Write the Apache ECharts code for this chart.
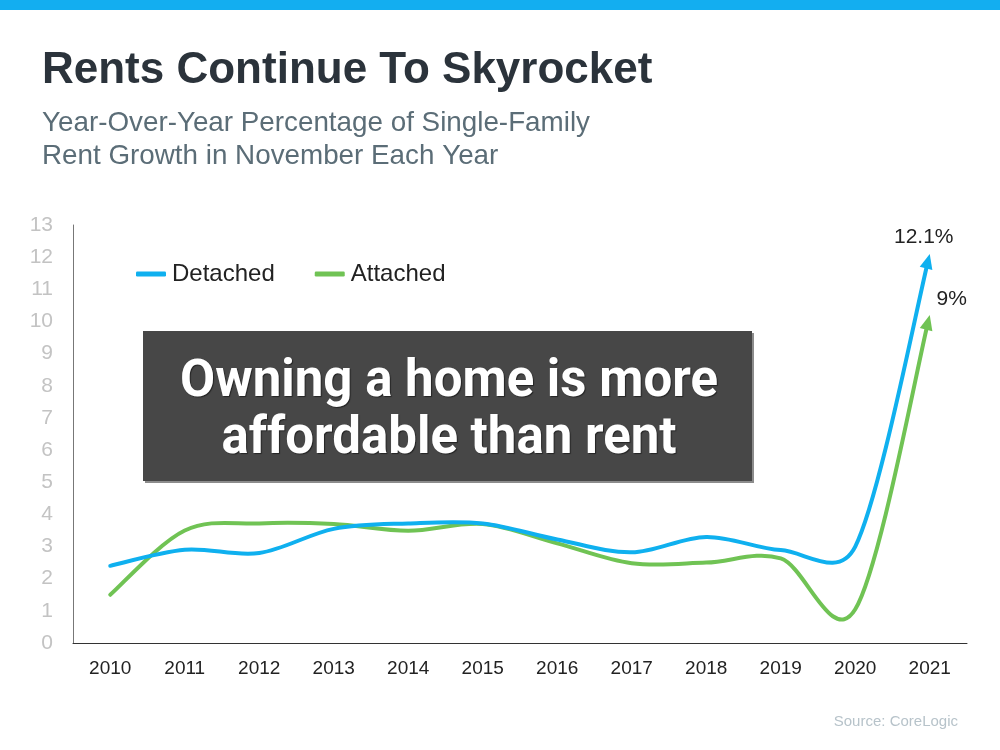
<!DOCTYPE html>
<html>
<head>
<meta charset="utf-8">
<script src="https://cdn.jsdelivr.net/npm/echarts@6/dist/echarts.min.js"></script>
<style>
html,body{margin:0;padding:0;background:#fff;}
#chart{width:1000px;height:750px;}
</style>
</head>
<body>
<div id="chart"></div>
<script>
const years = ['2010','2011','2012','2013','2014','2015','2016','2017','2018','2019','2020','2021'];
const detached = [2.4, 2.9, 2.8, 3.55, 3.72, 3.72, 3.22, 2.82, 3.3, 2.89, 3.0, 12.1];
const attached = [1.5, 3.5, 3.72, 3.7, 3.49, 3.7, 3.1, 2.48, 2.5, 2.63, 1.05, 10.2];
const endLabels = ['12.1%', '9%'];
const seriesNames = ['Detached', 'Attached'];
const yTicks = [0, 13, 1];

const BLUE = '#0fb0ef';
const GREEN = '#70c354';
const FONT = '"Liberation Sans", Arial, sans-serif';

function dist(a, b) { return Math.hypot(b[0] - a[0], b[1] - a[1]); }

// Smooth curve with Bezier control points derived from neighbours (office-style smoothing)
function buildSegments(pts) {
  const segs = [];
  const n = pts.length;
  for (let i = 0; i < n - 1; i++) {
    const p0 = pts[i - 1] || pts[i], p1 = pts[i], p2 = pts[i + 1], p3 = pts[i + 2] || pts[i + 1];
    const d12 = dist(p1, p2), d02 = dist(p0, p2), d13 = dist(p1, p3);
    let f1 = 1 / 6, f2 = 1 / 6;
    if (d02 > 0 && d02 / 6 >= d12 / 2) f1 = d12 / 2 / d02;
    if (d13 > 0 && d13 / 6 >= d12 / 2) f2 = d12 / 2 / d13;
    const c1 = [p1[0] + f1 * (p2[0] - p0[0]), p1[1] + f1 * (p2[1] - p0[1])];
    const c2 = [p2[0] - f2 * (p3[0] - p1[0]), p2[1] - f2 * (p3[1] - p1[1])];
    segs.push([p1, c1, c2, p2]);
  }
  return segs;
}
function lerp(a, b, t) { return [a[0] + (b[0] - a[0]) * t, a[1] + (b[1] - a[1]) * t]; }
function splitAt(seg, t) {
  const [a, b, c, d] = seg;
  const ab = lerp(a, b, t), bc = lerp(b, c, t), cd = lerp(c, d, t);
  const abc = lerp(ab, bc, t), bcd = lerp(bc, cd, t);
  const m = lerp(abc, bcd, t);
  return [a, ab, abc, m];
}

function makeRender(values, color, label, labelDx, labelDy) {
  return function (params, api) {
    if (params.dataIndex !== 0) return { type: 'group', children: [] };
    const pts = values.map((v, i) => api.coord([i, v]));
    const segs = buildSegments(pts);
    const last = segs[segs.length - 1];
    const tip = last[3];
    let ux = tip[0] - last[2][0], uy = tip[1] - last[2][1];
    const ul = Math.hypot(ux, uy); ux /= ul; uy /= ul;
    const ARW = 15, HALF = 6.5;
    const segLen = dist(last[0], last[3]);
    segs[segs.length - 1] = splitAt(last, 1 - (ARW - 3) / segLen);
    let d = 'M' + segs[0][0][0] + ',' + segs[0][0][1];
    segs.forEach(s => { d += ' C' + s[1][0] + ',' + s[1][1] + ' ' + s[2][0] + ',' + s[2][1] + ' ' + s[3][0] + ',' + s[3][1]; });
    const base = [tip[0] - ux * ARW, tip[1] - uy * ARW];
    const px = -uy, py = ux;
    return {
      type: 'group',
      children: [
        { type: 'path', shape: { pathData: d }, style: { stroke: color, lineWidth: 4, fill: null, lineCap: 'round', lineJoin: 'round' } },
        { type: 'polygon', shape: { points: [tip, [base[0] + px * HALF, base[1] + py * HALF], [base[0] - px * HALF, base[1] - py * HALF]] }, style: { fill: color } },
        { type: 'text', x: tip[0] + labelDx, y: tip[1] + labelDy, style: { text: label, fill: '#222', font: '21px ' + FONT, textAlign: 'center', textVerticalAlign: 'middle' } }
      ]
    };
  };
}

const chart = echarts.init(document.getElementById('chart'), null, { renderer: 'canvas' });
chart.setOption({
  animation: false,
  backgroundColor: '#fff',
  grid: { left: 73, right: 33, top: 225, bottom: 107 },
  legend: {
    left: 131, top: 257,
    itemWidth: 30, itemHeight: 5, itemGap: 40,
    icon: 'roundRect',
    textStyle: { color: '#222', fontSize: 24, fontFamily: FONT, padding: [0, 0, 0, 1] },
    data: seriesNames
  },
  xAxis: {
    type: 'category',
    data: years,
    boundaryGap: true,
    axisLine: { lineStyle: { color: '#333', width: 1 } },
    axisTick: { show: false },
    axisLabel: { color: '#222', fontSize: 19, margin: 16, fontFamily: FONT }
  },
  yAxis: {
    type: 'value',
    min: yTicks[0], max: yTicks[1], interval: yTicks[2],
    axisLine: { show: true, lineStyle: { color: '#777', width: 1 } },
    axisTick: { show: false },
    splitLine: { show: false },
    axisLabel: { color: '#c3c3c3', fontSize: 21, margin: 20, fontFamily: FONT }
  },
  series: [
    {
      name: seriesNames[0], type: 'custom',
      itemStyle: { color: BLUE },
      encode: { x: 0, y: 1 },
      data: detached.map((v, i) => [i, v]),
      renderItem: makeRender(detached, BLUE, endLabels[0], -6, -17),
      z: 3
    },
    {
      name: seriesNames[1], type: 'custom',
      itemStyle: { color: GREEN },
      encode: { x: 0, y: 1 },
      data: attached.map((v, i) => [i, v]),
      renderItem: makeRender(attached, GREEN, endLabels[1], 22, -16),
      z: 2
    }
  ],
  graphic: [
    { type: 'rect', shape: { x: 0, y: 0, width: 1000, height: 10 }, style: { fill: '#13aef0' } },
    { type: 'text', x: 42, y: 71, style: { text: 'Rents Continue To Skyrocket', fill: '#2b333b', font: 'bold 44px ' + FONT, textVerticalAlign: 'middle' } },
    { type: 'text', x: 42, y: 123, style: { text: 'Year-Over-Year Percentage of Single-Family', fill: '#5b6d77', font: '27.8px ' + FONT, textVerticalAlign: 'middle' } },
    { type: 'text', x: 42, y: 156, style: { text: 'Rent Growth in November Each Year', fill: '#5b6d77', font: '27.8px ' + FONT, textVerticalAlign: 'middle' } },
    { type: 'rect', shape: { x: 145, y: 333, width: 609, height: 150 }, style: { fill: '#8c8c8c' }, z: 10 },
    { type: 'rect', shape: { x: 143, y: 331, width: 609, height: 150 }, style: { fill: '#474747' }, z: 11 },
    { type: 'text', x: 449, y: 383, z: 12, style: { text: 'Owning a home is more', fill: '#fff', font: 'bold 51px Roboto, "Noto Sans", sans-serif', textAlign: 'center', textVerticalAlign: 'middle', textShadowColor: 'rgba(0,0,0,0.5)', textShadowOffsetX: 1, textShadowOffsetY: 1, textShadowBlur: 1 } },
    { type: 'text', x: 449, y: 440, z: 12, style: { text: 'affordable than rent', fill: '#fff', font: 'bold 51px Roboto, "Noto Sans", sans-serif', textAlign: 'center', textVerticalAlign: 'middle', textShadowColor: 'rgba(0,0,0,0.5)', textShadowOffsetX: 1, textShadowOffsetY: 1, textShadowBlur: 1 } },
    { type: 'text', x: 958, y: 722, style: { text: 'Source: CoreLogic', fill: '#b7c3ca', font: '15px ' + FONT, textAlign: 'right', textVerticalAlign: 'middle' } }
  ]
});
</script>
</body>
</html>
